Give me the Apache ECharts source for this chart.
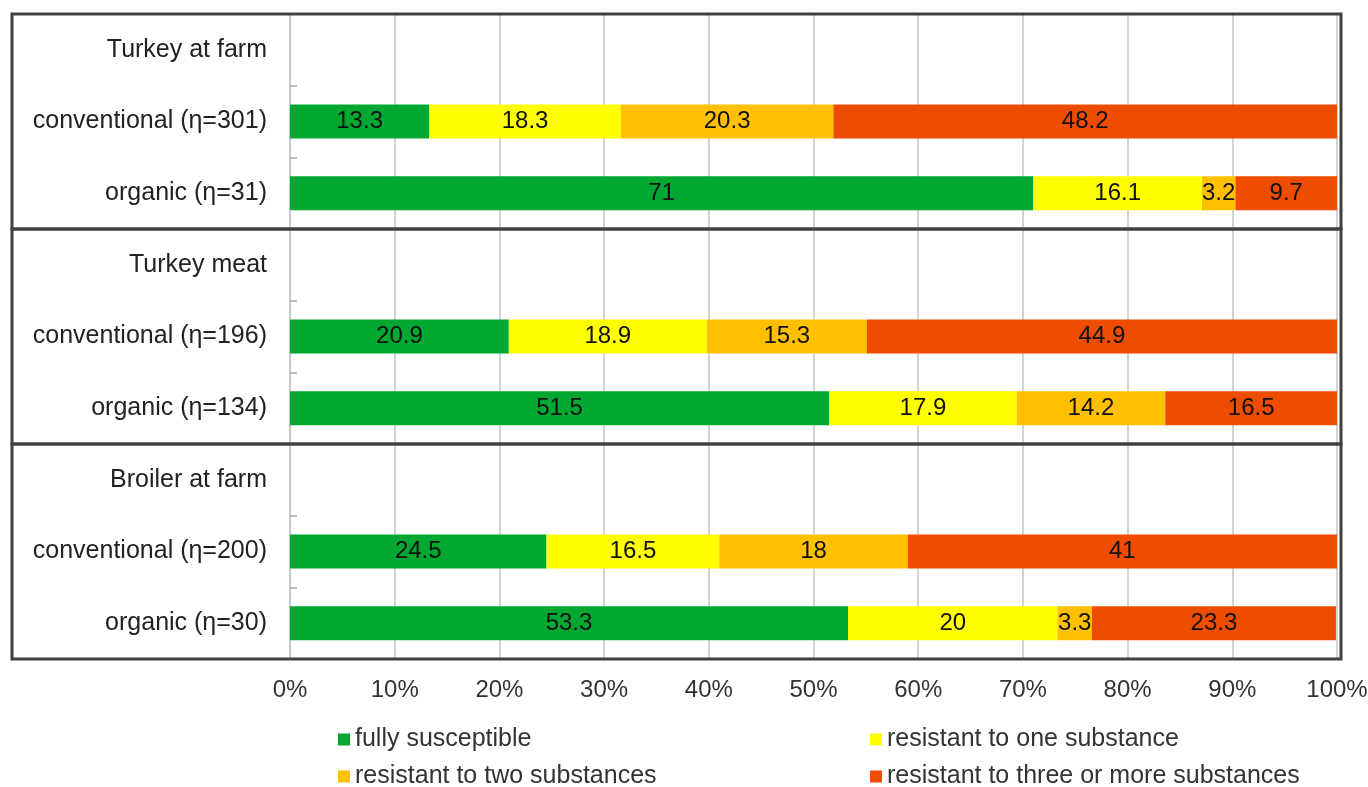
<!DOCTYPE html>
<html>
<head>
<meta charset="utf-8">
<style>html,body{margin:0;padding:0;background:#fff;}#c{width:1368px;height:787px;}</style>
<script src="https://cdn.jsdelivr.net/npm/echarts@6/dist/echarts.min.js"></script>
</head>
<body>
<div id="c"></div>
<script>
const categories = ['Turkey at farm','conventional (η=301)','organic (η=31)','Turkey meat','conventional (η=196)','organic (η=134)','Broiler at farm','conventional (η=200)','organic (η=30)'];
const fullySusceptible = [null,13.3,71,null,20.9,51.5,null,24.5,53.3];
const resistantOne = [null,18.3,16.1,null,18.9,17.9,null,16.5,20];
const resistantTwo = [null,20.3,3.2,null,15.3,14.2,null,18,3.3];
const resistantThreePlus = [null,48.2,9.7,null,44.9,16.5,null,41,23.3];
const seriesNames = ['fully susceptible','resistant to one substance','resistant to two substances','resistant to three or more substances'];
const colors = ['#00A832','#FFFF00','#FFC000','#EE4D00'];
const xTicks = [0,10,20,30,40,50,60,70,80,90,100];

const chart = echarts.init(document.getElementById('c'), null, {renderer:'canvas'});
const font = 'Liberation Sans, Arial, sans-serif';
const dataSets = [fullySusceptible, resistantOne, resistantTwo, resistantThreePlus];
const series = dataSets.map((d,i)=>({
  name: seriesNames[i], type:'bar', stack:'all', data:d, barWidth:34,
  itemStyle:{color:colors[i]},
  label:{show:true, position:'inside', color:'#111', fontSize:24, fontFamily:font,
    formatter: p => (p.value==null ? '' : String(p.value))}
}));
const legendPos = [[333,722],[865,722],[333,759],[865,759]];
const legends = seriesNames.map((n,i)=>({
  orient:'horizontal', left:legendPos[i][0], top:legendPos[i][1], itemWidth:12, itemHeight:12, icon:'rect',
  data:[n], textStyle:{fontSize:25, color:'#333', fontFamily:font}
}));
chart.setOption({
  animation:false,
  textStyle:{fontFamily:font},
  grid:{left:290, right:31, top:14, height:645, containLabel:false, outerBoundsMode:'none'},
  xAxis:{type:'value', min:0, max:100, interval:10,
    axisLine:{show:false}, axisTick:{show:false},
    splitLine:{show:true, lineStyle:{color:'#c4c4c4', width:1.5}},
    axisLabel:{margin:19, fontSize:24, color:'#333', fontFamily:font, formatter: v => (xTicks.indexOf(v)>=0 ? v+'%' : '')}
  },
  yAxis:{type:'category', inverse:true, data:categories,
    axisLine:{show:true, lineStyle:{color:'#c4c4c4', width:1.5}},
    axisTick:{show:true, inside:true, length:7, lineStyle:{color:'#aaa', width:1.5}},
    axisLabel:{margin:23, fontSize:25, color:'#222', fontFamily:font}
  },
  legend: legends,
  series: series
});

const rect = chart.getModel().getComponent('grid',0).coordinateSystem.getRect();
const band = rect.height / categories.length;
const boxes = [];
for (let g=0; g<3; g++){
  boxes.push({type:'rect', silent:true, z:100,
    shape:{x:12, y:rect.y + g*3*band, width:(rect.x+rect.width+4)-12, height:3*band},
    style:{fill:null, stroke:'#404040', lineWidth:3}});
}
chart.setOption({graphic:boxes});
</script>
</body>
</html>
